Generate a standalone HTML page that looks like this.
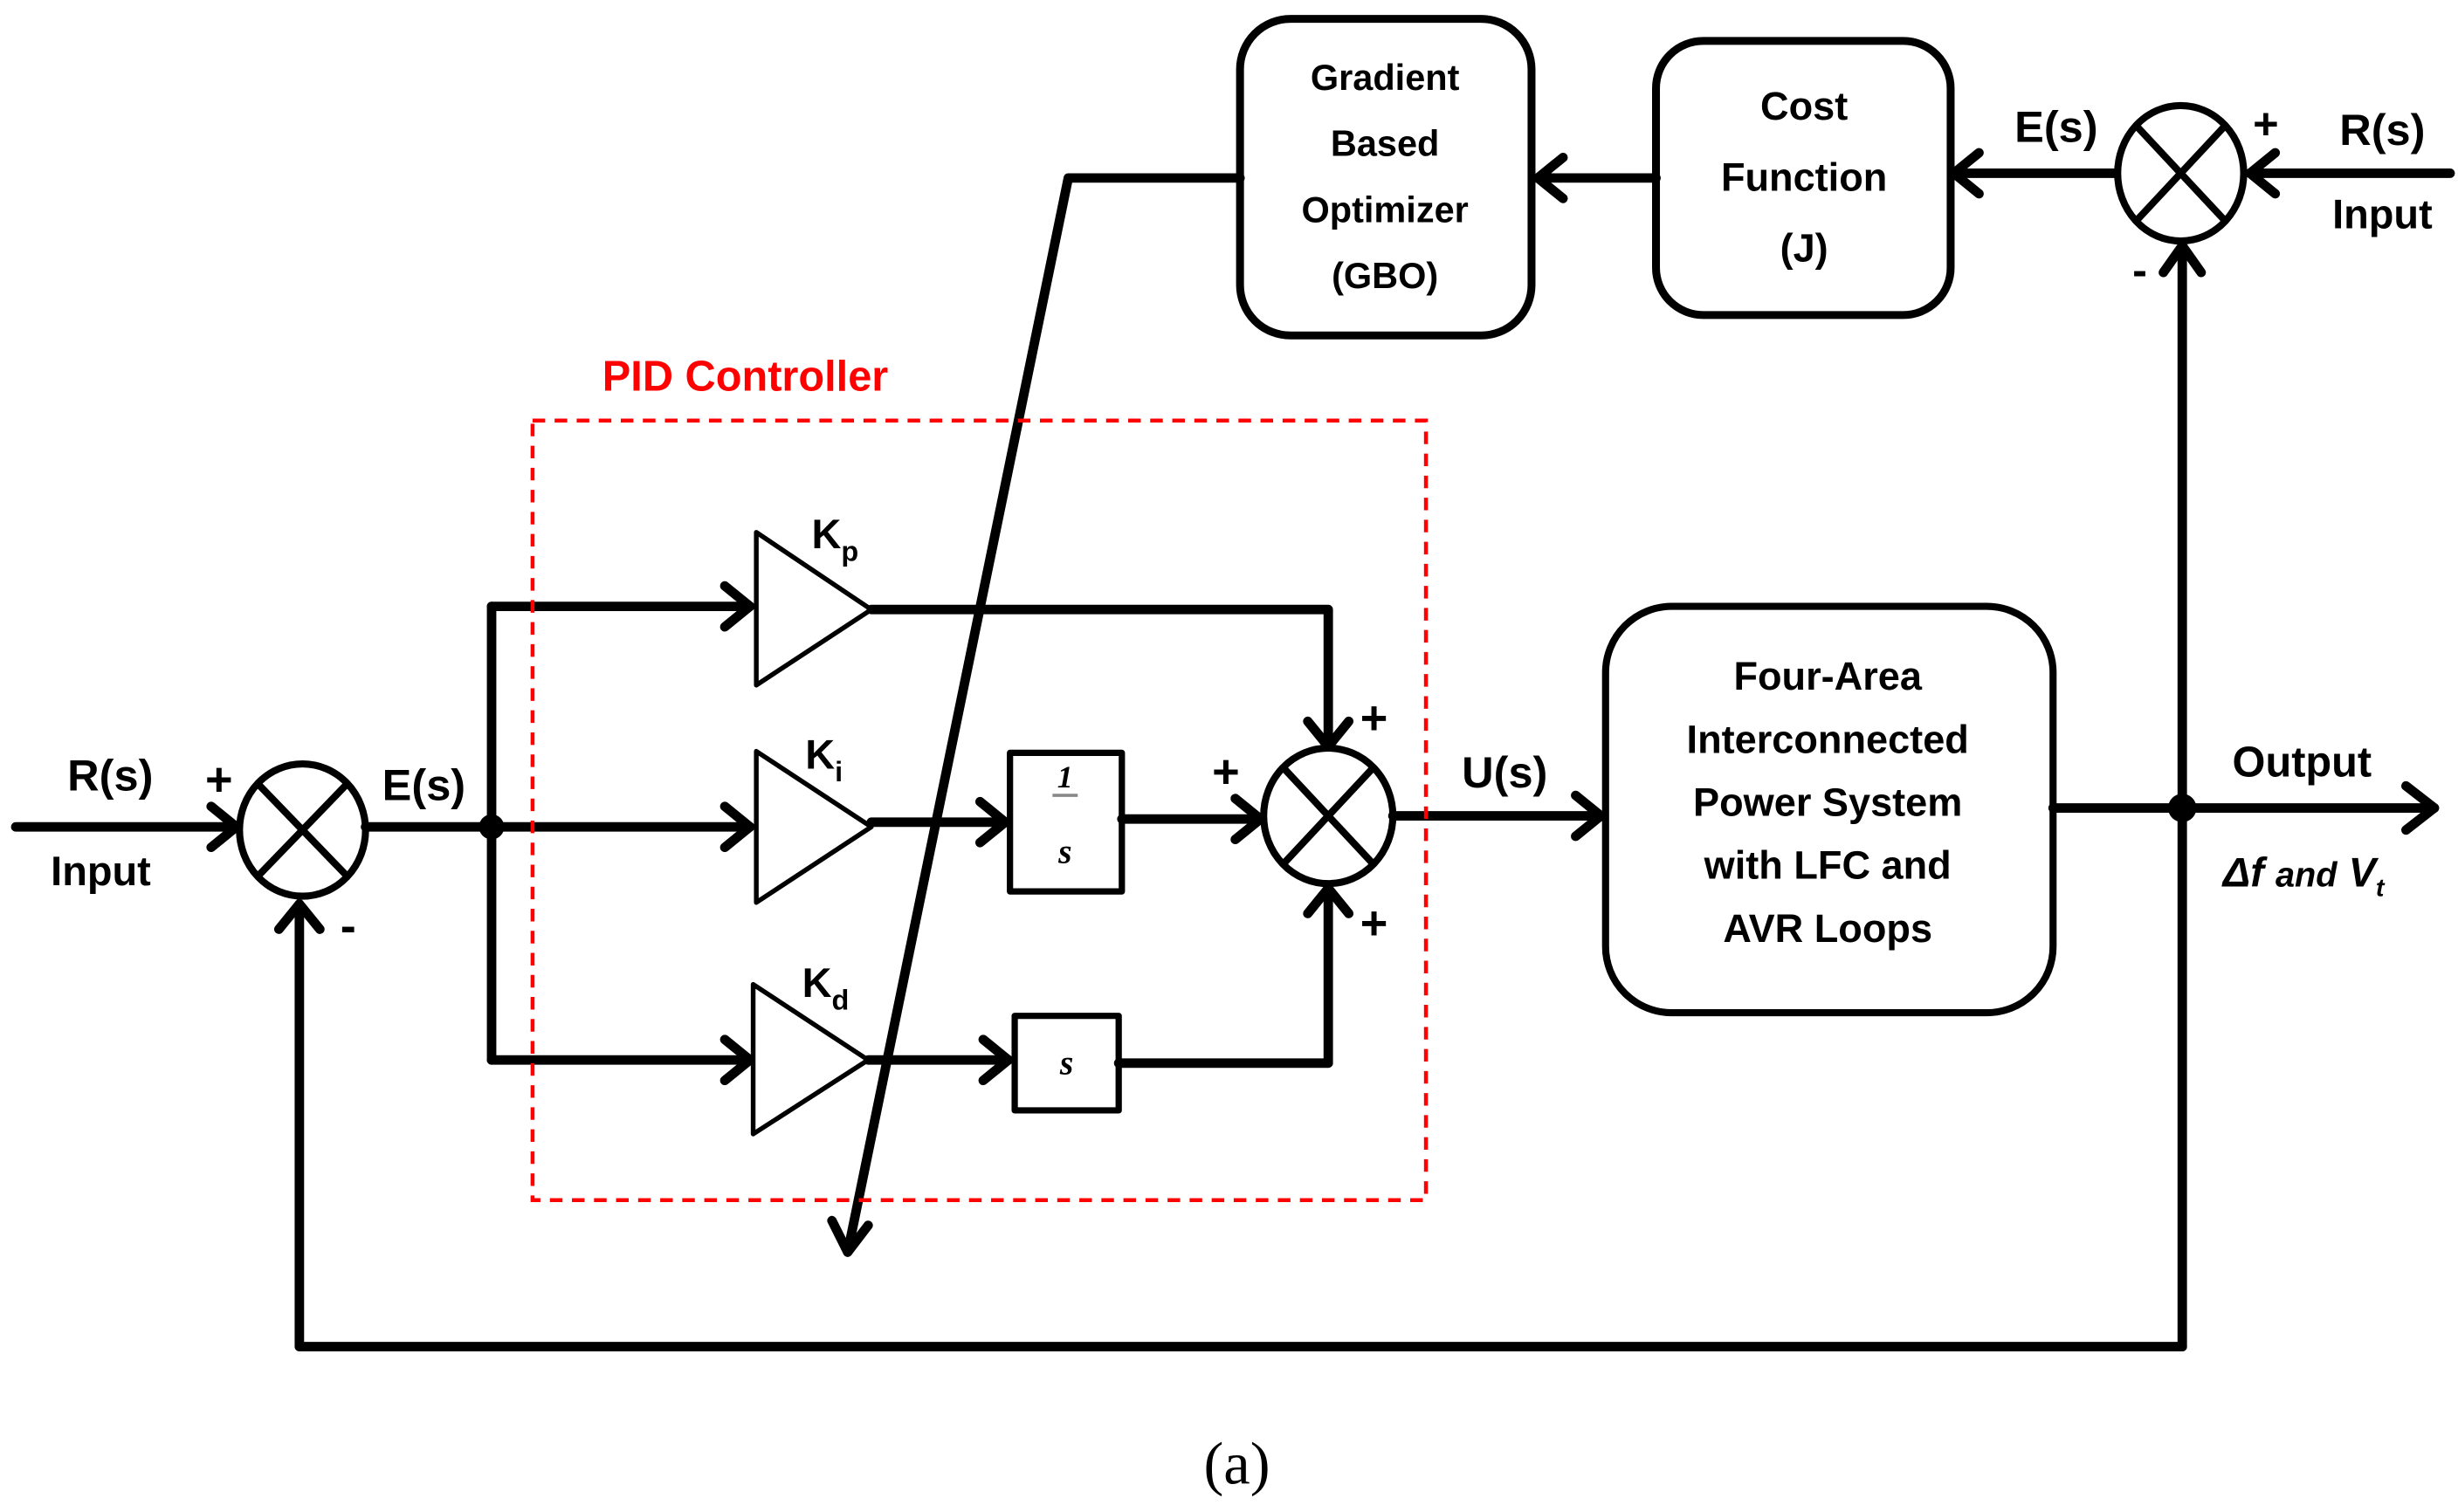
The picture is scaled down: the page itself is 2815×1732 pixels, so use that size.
<!DOCTYPE html>
<html><head><style>html,body{margin:0;padding:0;background:#fff}svg{display:block}</style></head>
<body>
<svg width="2815" height="1732" viewBox="0 0 1560 960" preserveAspectRatio="none" xmlns="http://www.w3.org/2000/svg">
<g fill="none" stroke="#000" stroke-width="6" stroke-linejoin="round" stroke-linecap="round">
<line x1="10" y1="525" x2="150" y2="525"/>
<polyline points="134,512 150,525 134,538"/>
<ellipse cx="192" cy="527" rx="40" ry="42" stroke-width="4.5"/>
<line x1="164" y1="498" x2="220" y2="556" stroke-width="4.5"/>
<line x1="220" y1="498" x2="164" y2="556" stroke-width="4.5"/>
<line x1="232" y1="525" x2="312" y2="525"/>
<line x1="312" y1="385" x2="312" y2="673"/>
<line x1="312" y1="385" x2="476" y2="385"/><polyline points="460,372 476,385 460,398"/>
<line x1="312" y1="525" x2="476" y2="525"/><polyline points="460,512 476,525 460,538"/>
<line x1="312" y1="673" x2="476" y2="673"/><polyline points="460,660 476,673 460,686"/>
<polygon points="480,338 480,435 553,387" stroke-width="3"/>
<polygon points="480,477 480,573 553,525" stroke-width="3"/>
<polygon points="478,625 478,720 551,673" stroke-width="3"/>
<polyline points="553,387 843,387 843,474"/>
<polyline points="830,458 843,474 856,458"/>
<line x1="553" y1="522" x2="638" y2="522"/><polyline points="622,509 638,522 622,535"/>
<rect x="641" y="478" width="71" height="88" stroke-width="4"/>
<line x1="712" y1="520" x2="800" y2="520"/><polyline points="784,507 800,520 784,533"/>
<line x1="551" y1="673" x2="640" y2="673"/><polyline points="624,660 640,673 624,686"/>
<rect x="644" y="645" width="66" height="60" stroke-width="4"/>
<polyline points="710,675 843,675 843,564"/>
<polyline points="830,580 843,564 856,580"/>
<ellipse cx="843" cy="518" rx="41" ry="43" stroke-width="4.5"/>
<line x1="815" y1="488" x2="871" y2="548" stroke-width="4.5"/>
<line x1="871" y1="488" x2="815" y2="548" stroke-width="4.5"/>
<line x1="884" y1="518" x2="1016" y2="518"/><polyline points="1000,505 1016,518 1000,531"/>
<rect x="1019" y="385" width="284" height="258" rx="42" stroke-width="4.5"/>
<line x1="1303" y1="513" x2="1545" y2="513"/><polyline points="1527,499 1545,513 1527,527"/>
<line x1="1385" y1="855" x2="1385" y2="156"/>
<polyline points="1373,173 1385,156 1397,173"/>
<polyline points="1385,855 190,855 190,574"/>
<polyline points="177,590 190,574 203,590"/>
<ellipse cx="1384" cy="110" rx="40" ry="43" stroke-width="4.5"/>
<line x1="1356" y1="80" x2="1412" y2="140" stroke-width="4.5"/>
<line x1="1412" y1="80" x2="1356" y2="140" stroke-width="4.5"/>
<line x1="1555" y1="110" x2="1428" y2="110"/><polyline points="1444,97 1428,110 1444,123"/>
<line x1="1343" y1="110" x2="1240" y2="110"/><polyline points="1256,97 1240,110 1256,123"/>
<rect x="1051" y="26" width="187" height="174" rx="30" stroke-width="5"/>
<line x1="1051" y1="113" x2="976" y2="113"/><polyline points="992,100 976,113 992,126"/>
<rect x="787" y="12" width="185" height="201" rx="32" stroke-width="5"/>
<polyline points="787,113 678,113 538,795"/>
<polyline points="528,775 538,795 551,778"/>
</g>
<circle cx="312" cy="525" r="8" fill="#000"/>
<circle cx="1385" cy="513" r="9" fill="#000"/>
<rect x="338" y="267" width="567" height="495" fill="none" stroke="#f00" stroke-width="2.5" stroke-dasharray="8,6"/>
<line x1="668" y1="505" x2="684" y2="505" stroke="#888" stroke-width="2"/>
<g font-family="Liberation Sans, sans-serif" font-weight="bold" font-size="26" fill="#000" text-anchor="middle">
<text x="473" y="248" fill="#f00" font-size="27">PID Controller</text>
<text x="70" y="502" font-size="28">R(s)</text>
<text x="64" y="562">Input</text>
<text x="139" y="505" font-size="30">+</text>
<text x="221" y="598" font-size="30">-</text>
<text x="269" y="508" font-size="28">E(s)</text>
<text x="530" y="348">K<tspan font-size="18" dy="8">p</tspan></text>
<text x="523" y="488">K<tspan font-size="18" dy="8">i</tspan></text>
<text x="524" y="633">K<tspan font-size="18" dy="8">d</tspan></text>
<text x="872" y="466" font-size="30">+</text>
<text x="778" y="500" font-size="30">+</text>
<text x="872" y="596" font-size="30">+</text>
<text x="955" y="500" font-size="28">U(s)</text>
<text x="1160" y="438" font-size="25">Four-Area</text>
<text x="1160" y="478" font-size="25">Interconnected</text>
<text x="1160" y="518" font-size="25">Power System</text>
<text x="1160" y="558" font-size="25">with LFC and</text>
<text x="1160" y="598" font-size="25">AVR Loops</text>
<text x="1461" y="493" font-size="27">Output</text>
<text x="1462" y="563" font-style="italic" font-size="26">Δf <tspan font-size="22">and</tspan> V<tspan font-size="16" dy="6">t</tspan></text>
<text x="879" y="57" font-size="23">Gradient</text>
<text x="879" y="99" font-size="23">Based</text>
<text x="879" y="141" font-size="23">Optimizer</text>
<text x="879" y="183" font-size="23">(GBO)</text>
<text x="1145" y="76" font-size="25">Cost</text>
<text x="1145" y="121" font-size="25">Function</text>
<text x="1145" y="166" font-size="25">(J)</text>
<text x="1305" y="90" font-size="28">E(s)</text>
<text x="1438" y="88" font-size="28">+</text>
<text x="1512" y="92" font-size="28">R(s)</text>
<text x="1512" y="145">Input</text>
<text x="1358" y="181" font-size="28">-</text>
</g>
<g font-family="Liberation Serif, serif" font-weight="bold" font-style="italic" fill="#000" text-anchor="middle">
<text x="676" y="500" font-size="20">1</text>
<text x="676" y="548" font-size="22">s</text>
<text x="677" y="682" font-size="22">s</text>
</g>
<text x="785" y="942" font-family="Liberation Serif, serif" font-size="38" text-anchor="middle">(a)</text>
</svg>
</body></html>
